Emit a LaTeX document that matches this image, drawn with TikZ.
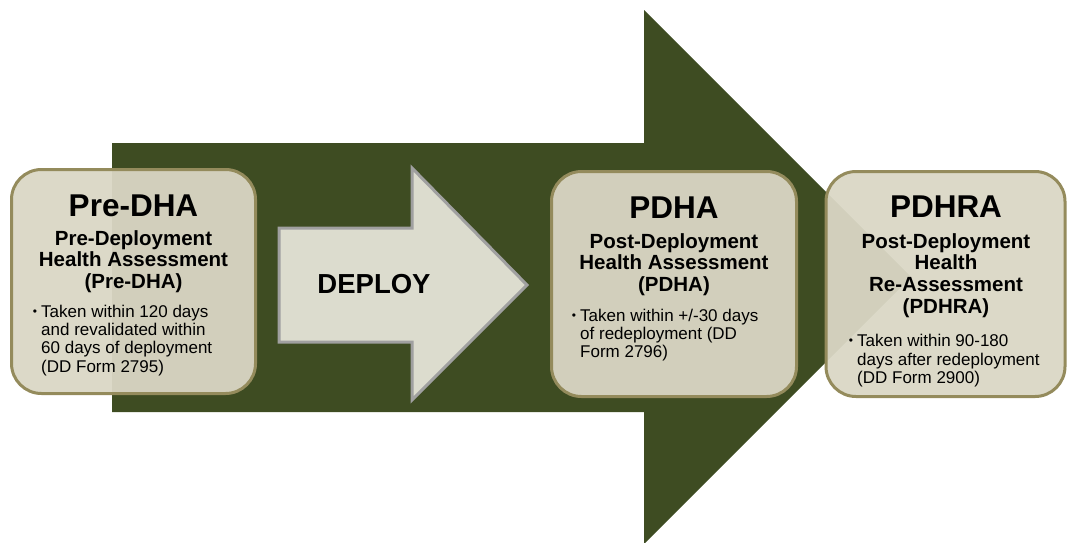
\documentclass[tikz,border=0pt]{standalone}
\usepackage{fontspec}
\setmainfont{Liberation Sans}
\definecolor{armygreen}{RGB}{62,76,34}
\definecolor{boxfill}{RGB}{218,215,197}
\definecolor{boxline}{RGB}{148,139,92}
\definecolor{deployfill}{RGB}{220,220,206}
\definecolor{deployline}{RGB}{160,160,160}
\tikzset{
  bigarrow/.style={fill=armygreen, draw=none},
  deployarrow/.style={fill=deployfill, draw=deployline, line width=3pt, line join=miter},
  stagebox/.style={rectangle, rounded corners=30pt, fill=boxfill, fill opacity=0.95, draw=boxline, line width=3pt, inner sep=0pt},
  titletext/.style={anchor=base, inner sep=0pt, font=\fontsize{31.5}{31.5}\selectfont\bfseries},
  subtext/.style={anchor=base, inner sep=0pt, font=\fontsize{20.5}{21}\selectfont\bfseries},
  bullettext/.style={anchor=base west, inner sep=0pt, font=\fontsize{17}{18}\selectfont},
  bulletmark/.style={anchor=base, inner sep=0pt, font=\fontsize{12}{12}\selectfont},
  deploytext/.style={anchor=base, inner sep=0pt, font=\fontsize{27.5}{27.5}\selectfont\bfseries},
}
\begin{document}
\begin{tikzpicture}[x=1pt,y=-1pt]
\useasboundingbox (0,0) rectangle (1068,542);
\clip (0,0) rectangle (1068,542);
% big green arrow
\fill[bigarrow] (112,143) -- (644,143) -- (644,10) -- (911,277) -- (644,544) -- (644,412) -- (112,412) -- cycle;
% deploy arrow
\draw[deployarrow] (279,228) -- (412,228) -- (412,168) -- (527,285) -- (412,400) -- (412,342) -- (279,342) -- cycle;
\node[deploytext] (deploy) at (374,293) {DEPLOY};
% boxes
\node[stagebox, minimum width=244pt, minimum height=224pt] (pre) at (133.5,281.5) {};
\node[stagebox, minimum width=245pt, minimum height=225pt] (pdha) at (674,284) {};
\node[stagebox, minimum width=239pt, minimum height=225pt] (pdhra) at (945.5,284) {};
% Pre-DHA text
\node[titletext] (pret) at (133.5,216) {Pre-DHA};
\node[subtext] (pres1) at (133.5,245.5) {Pre-Deployment};
\node[subtext] (pres2) at (133.5,266.5) {Health Assessment};
\node[subtext] (pres3) at (133.5,288) {(Pre-DHA)};
\node[bulletmark] (preb) at (35,315) {\textbullet};
\node[bullettext] (prel1) at (41,317) {Taken within 120 days};
\node[bullettext] (prel2) at (41,335) {and revalidated within};
\node[bullettext] (prel3) at (41,353.5) {60 days of deployment};
\node[bullettext] (prel4) at (41,372) {(DD Form 2795)};
% PDHA text
\node[titletext] (pdhat) at (674,218) {PDHA};
\node[subtext] (pdhas1) at (674,248) {Post-Deployment};
\node[subtext] (pdhas2) at (674,269) {Health Assessment};
\node[subtext] (pdhas3) at (674,291) {(PDHA)};
\node[bulletmark] (pdhab) at (574,319) {\textbullet};
\node[bullettext] (pdhal1) at (580,321) {Taken within +/-30 days};
\node[bullettext] (pdhal2) at (580,339) {of redeployment (DD};
\node[bullettext] (pdhal3) at (580,357.5) {Form 2796)};
% PDHRA text
\node[titletext] (pdhrat) at (946,217.5) {PDHRA};
\node[subtext] (pdhras1) at (946,248) {Post-Deployment};
\node[subtext] (pdhras2) at (946,269.5) {Health};
\node[subtext] (pdhras3) at (946,291.5) {Re-Assessment};
\node[subtext] (pdhras4) at (946,313.5) {(PDHRA)};
\node[bulletmark] (pdhrab) at (851,344.5) {\textbullet};
\node[bullettext] (pdhral1) at (857,346.5) {Taken within 90-180};
\node[bullettext] (pdhral2) at (857,365) {days after redeployment};
\node[bullettext] (pdhral3) at (857,383) {(DD Form 2900)};
\end{tikzpicture}
\end{document}
